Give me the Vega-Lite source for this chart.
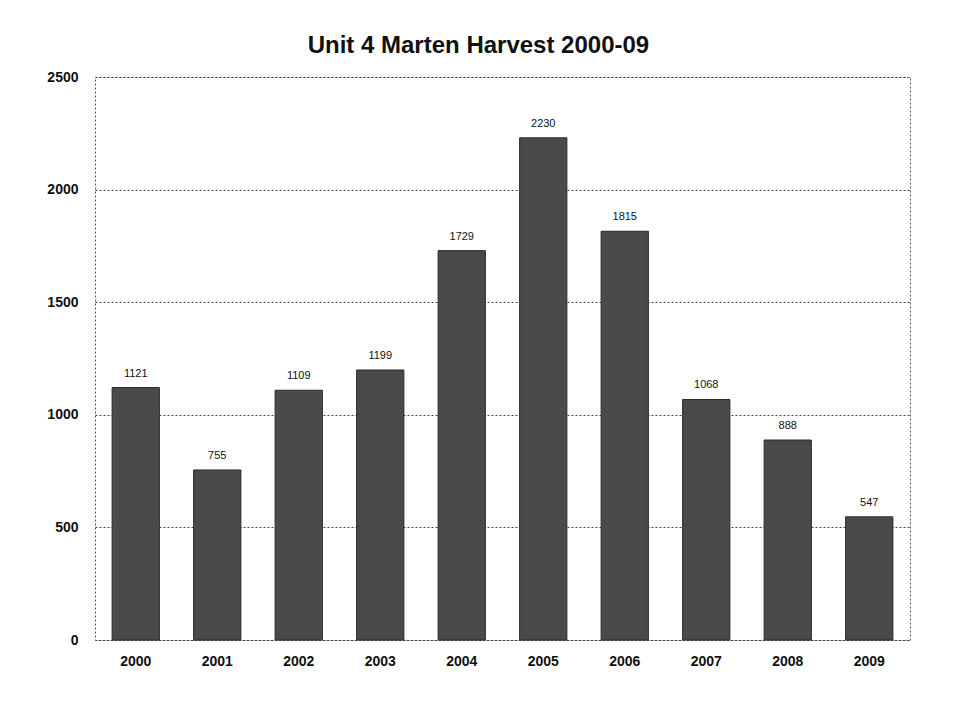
{
  "$schema": "https://vega.github.io/schema/vega-lite/v6.json",
  "width": 815,
  "height": 563,
  "autosize": {"type": "none"},
  "padding": {"left": 95, "top": 77, "right": 45, "bottom": 84},
  "background": "white",
  "title": {
    "text": "Unit 4 Marten Harvest 2000-09",
    "font": "Liberation Sans",
    "fontSize": 24,
    "fontWeight": "bold",
    "color": "#111111",
    "anchor": "middle",
    "frame": "bounds",
    "offset": 12
  },
  "data": {
    "values": [
      {"year": "2000", "harvest": 1121},
      {"year": "2001", "harvest": 755},
      {"year": "2002", "harvest": 1109},
      {"year": "2003", "harvest": 1199},
      {"year": "2004", "harvest": 1729},
      {"year": "2005", "harvest": 2230},
      {"year": "2006", "harvest": 1815},
      {"year": "2007", "harvest": 1068},
      {"year": "2008", "harvest": 888},
      {"year": "2009", "harvest": 547}
    ]
  },
  "config": {
    "view": {"stroke": "#555555", "strokeDash": [2, 2], "strokeWidth": 1},
    "font": "Liberation Sans"
  },
  "encoding": {
    "x": {
      "field": "year",
      "type": "nominal",
      "scale": {"paddingInner": 0.42, "paddingOuter": 0.21},
      "axis": {
        "title": null,
        "labelAngle": 0,
        "labelFont": "Liberation Sans",
        "labelFontSize": 14,
        "labelFontWeight": "bold",
        "labelColor": "#111111",
        "labelPadding": 14,
        "ticks": false,
        "domain": false,
        "grid": false
      }
    },
    "y": {
      "field": "harvest",
      "type": "quantitative",
      "scale": {"domain": [0, 2500], "nice": false},
      "axis": {
        "title": null,
        "values": [0, 500, 1000, 1500, 2000, 2500],
        "format": "d",
        "labelFont": "Liberation Sans",
        "labelFontSize": 14,
        "labelFontWeight": "bold",
        "labelColor": "#111111",
        "labelPadding": 17,
        "ticks": false,
        "domain": false,
        "grid": true,
        "gridColor": "#444444",
        "gridDash": [2, 2],
        "gridWidth": 1
      }
    }
  },
  "layer": [
    {
      "mark": {"type": "bar", "color": "#4a4a4a", "stroke": "#2a2a2a", "strokeWidth": 1}
    },
    {
      "mark": {"type": "text", "dy": -14, "fontSize": 11, "color": "#111111", "font": "Liberation Sans"},
      "encoding": {"text": {"field": "harvest", "type": "quantitative", "format": "d"}}
    }
  ]
}
